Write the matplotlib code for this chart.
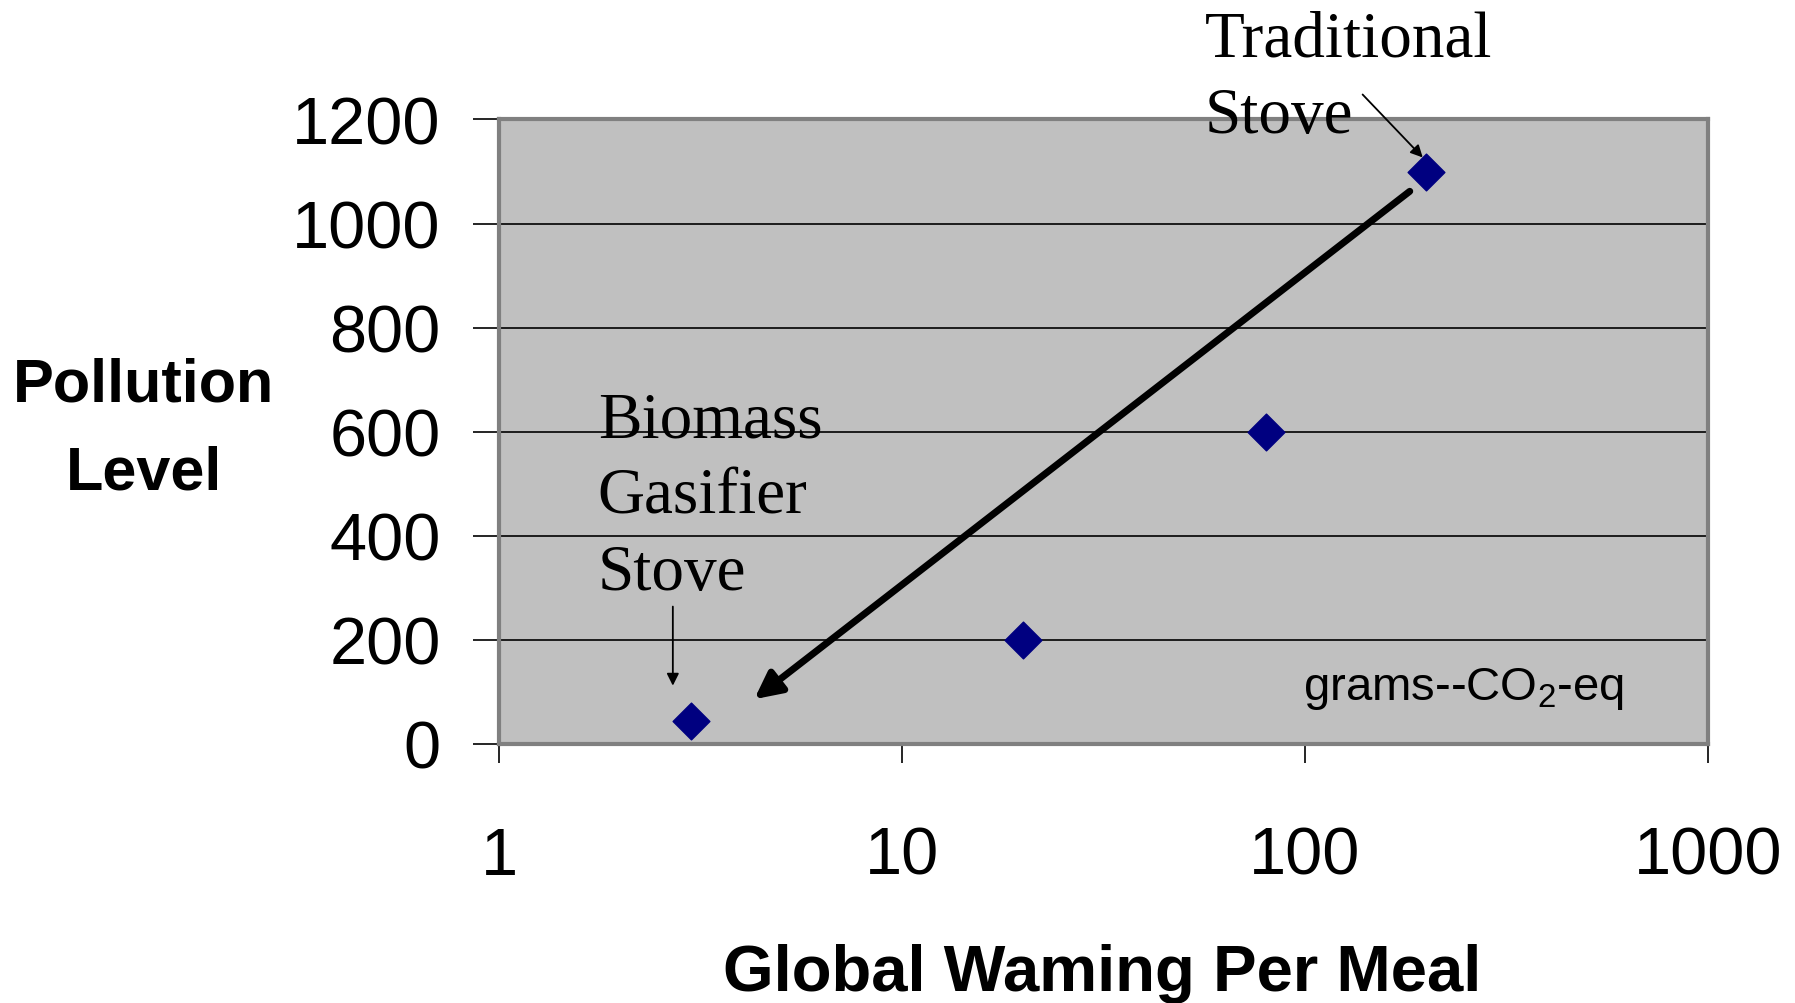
import matplotlib
matplotlib.use("Agg")
from matplotlib import pyplot as plt

# stove data (global warming per meal, pollution level)
stoves = ["Biomass Gasifier Stove", "Stove B", "Stove C", "Traditional Stove"]
warming = [3, 20, 80, 200]
pollution = [45, 200, 600, 1100]

y_ticks = [0, 200, 400, 600, 800, 1000, 1200]
x_ticks = [1, 10, 100, 1000]
x_tick_labels = ["1", "10", "100", "1000"]

plt.rcParams['font.family'] = ['Liberation Sans', 'DejaVu Sans']
plt.rcParams['mathtext.default'] = 'regular'

fig = plt.figure(figsize=(17.95, 10.04), dpi=100)
ax = fig.add_axes([0.278, 0.258, 0.6735, 0.622])
ax.set_facecolor('#c0c0c0')

ax.scatter(warming, pollution, marker='D', s=350, color='#000080', zorder=3)

ax.set_xscale('log')
ax.set_xlim(1, 1000)
ax.set_ylim(0, 1200)
ax.set_xticks(x_ticks)
ax.set_xticklabels(x_tick_labels)
ax.minorticks_off()
ax.set_yticks(y_ticks)
ax.yaxis.grid(True, color='black', lw=1.2)
ax.set_axisbelow(True)

ax.tick_params(axis='y', labelsize=48, length=19, width=1.2, pad=23, color='black')
ax.tick_params(axis='x', labelsize=48, length=14, width=1.2, pad=45, color='black')

for side in ['top', 'right', 'left', 'bottom']:
    ax.spines[side].set_color('#808080')
    ax.spines[side].set_linewidth(3)

# big trend arrow
ax.annotate('', xy=(4.3, 86), xytext=(182, 1062),
            arrowprops=dict(arrowstyle='-|>', color='black', lw=5,
                            mutation_scale=40, shrinkA=0, shrinkB=0))

# label arrows
ax.annotate('', xy=(196, 1127), xytext=(139, 1248), annotation_clip=False,
            arrowprops=dict(arrowstyle='-|>', color='black', lw=1.3,
                            mutation_scale=18, shrinkA=0, shrinkB=0))
ax.annotate('', xy=(2.7, 112), xytext=(2.7, 264),
            arrowprops=dict(arrowstyle='-|>', color='black', lw=1.3,
                            mutation_scale=18, shrinkA=0, shrinkB=0))

fig.text(0.671, 0.989, "Traditional\nStove", family='Liberation Serif',
         fontsize=47, va='top', ha='left', linespacing=1.37)
fig.text(0.333, 0.610, "Biomass\nGasifier\nStove", family='Liberation Serif',
         fontsize=47, va='top', ha='left', linespacing=1.37)

ax.text(0.665, 0.072, "grams--CO$_2$-eq", transform=ax.transAxes,
        fontsize=34, va='baseline', ha='left')

fig.text(0.080, 0.572, "Pollution\nLevel", fontsize=44, fontweight='bold',
         ha='center', va='center', linespacing=1.7)
fig.text(0.614, 0.03, "Global Waming Per Meal", fontsize=47,
         fontweight='bold', ha='center', va='center')

fig.savefig('out.png', dpi=100)
